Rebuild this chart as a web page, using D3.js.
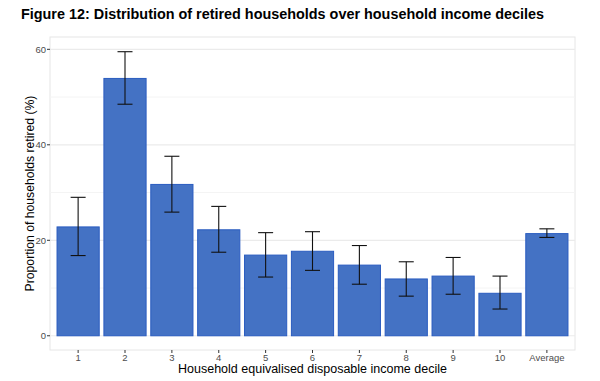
<!DOCTYPE html>
<html><head><meta charset="utf-8">
<script src="https://cdn.jsdelivr.net/npm/d3@7"></script>
<style>body{margin:0;background:#fff;}svg{display:block;font-family:"Liberation Sans",Arial,sans-serif;}</style>
</head><body>
<svg id="chart" width="600" height="381"></svg>
<script>
const categories = ["1","2","3","4","5","6","7","8","9","10","Average"];
const values =     [22.8, 53.9, 31.7, 22.2, 16.9, 17.7, 14.8, 11.9, 12.5, 8.9, 21.4];
const lowerCI =    [16.8, 48.5, 25.9, 17.5, 12.3, 13.7, 10.8, 8.3, 8.7, 5.6, 20.6];
const upperCI =    [29.0, 59.5, 37.6, 27.1, 21.6, 21.8, 18.9, 15.5, 16.4, 12.5, 22.4];
const yTicks = [0, 20, 40, 60];
const yMinor = [10, 30, 50];

const svg = d3.select("#chart");
const panel = {left: 50, right: 575, top: 37, bottom: 350};

// ggplot-like discrete scale: 0.6 step expansion each side, bar width 0.9 of step
const n = categories.length;
const x = d3.scalePoint().domain(categories)
  .range([panel.left, panel.right]).padding(0.6);
const step = x.step();
const bw = step * 0.9;

const y = d3.scaleLinear().domain([-2.98, 62.58]).range([panel.bottom, panel.top]);

// panel border
svg.append("rect").attr("x", panel.left).attr("y", panel.top)
  .attr("width", panel.right - panel.left).attr("height", panel.bottom - panel.top)
  .attr("fill", "#fff").attr("stroke", "#e6e6e6").attr("stroke-width", 1);

// grid
svg.selectAll(".minor").data(yMinor).join("line")
  .attr("x1", panel.left).attr("x2", panel.right)
  .attr("y1", d => y(d)).attr("y2", d => y(d))
  .attr("stroke", "#f4f4f4").attr("stroke-width", 1);
svg.selectAll(".major").data(yTicks).join("line")
  .attr("x1", panel.left).attr("x2", panel.right)
  .attr("y1", d => y(d)).attr("y2", d => y(d))
  .attr("stroke", "#ebebeb").attr("stroke-width", 1.2);

// bars
const data = categories.map((c, i) => ({c, v: values[i], lo: lowerCI[i], hi: upperCI[i]}));
svg.selectAll(".bar").data(data).join("rect")
  .attr("x", d => x(d.c) - bw/2).attr("width", bw)
  .attr("y", d => y(d.v)).attr("height", d => y(0) - y(d.v))
  .attr("fill", "#4472c4").attr("stroke", "#2a5cc0").attr("stroke-width", 1);

// error bars
const cap = 15;
const eb = svg.append("g").attr("stroke", "#111").attr("stroke-width", 1.1);
eb.selectAll(".v").data(data).join("line")
  .attr("x1", d => x(d.c)).attr("x2", d => x(d.c))
  .attr("y1", d => y(d.lo)).attr("y2", d => y(d.hi));
eb.selectAll(".t").data(data).join("line")
  .attr("x1", d => x(d.c) - cap/2).attr("x2", d => x(d.c) + cap/2)
  .attr("y1", d => y(d.hi)).attr("y2", d => y(d.hi));
eb.selectAll(".b").data(data).join("line")
  .attr("x1", d => x(d.c) - cap/2).attr("x2", d => x(d.c) + cap/2)
  .attr("y1", d => y(d.lo)).attr("y2", d => y(d.lo));

// y axis ticks + labels
const yAx = svg.append("g");
yAx.selectAll("line").data(yTicks).join("line")
  .attr("x1", panel.left - 3).attr("x2", panel.left)
  .attr("y1", d => y(d)).attr("y2", d => y(d))
  .attr("stroke", "#333").attr("stroke-width", 1);
yAx.selectAll("text").data(yTicks).join("text")
  .attr("x", panel.left - 4).attr("y", d => y(d)).attr("dy", "0.35em")
  .attr("text-anchor", "end").attr("font-size", 9.5).attr("fill", "#4d4d4d")
  .text(d => d);

// x axis ticks + labels
const xAx = svg.append("g");
xAx.selectAll("line").data(categories).join("line")
  .attr("x1", d => x(d)).attr("x2", d => x(d))
  .attr("y1", panel.bottom).attr("y2", panel.bottom + 3)
  .attr("stroke", "#333").attr("stroke-width", 1);
xAx.selectAll("text").data(categories).join("text")
  .attr("x", d => x(d)).attr("y", panel.bottom + 10.5)
  .attr("text-anchor", "middle").attr("font-size", 9.5).attr("fill", "#4d4d4d")
  .text(d => d);

// axis titles
svg.append("text").attr("x", (panel.left + panel.right)/2).attr("y", 372.5)
  .attr("text-anchor", "middle").attr("font-size", 12.5).attr("fill", "#000")
  .text("Household equivalised disposable income decile");
svg.append("text").attr("transform", `translate(33.5,${(panel.top + panel.bottom)/2}) rotate(-90)`)
  .attr("text-anchor", "middle").attr("font-size", 12.2).attr("fill", "#000")
  .text("Proportion of households retired (%)");

// title
svg.append("text").attr("x", 21).attr("y", 18.5)
  .attr("font-size", 14.4).attr("font-weight", "bold").attr("fill", "#000")
  .text("Figure 12: Distribution of retired households over household income deciles");
</script>
</body></html>
